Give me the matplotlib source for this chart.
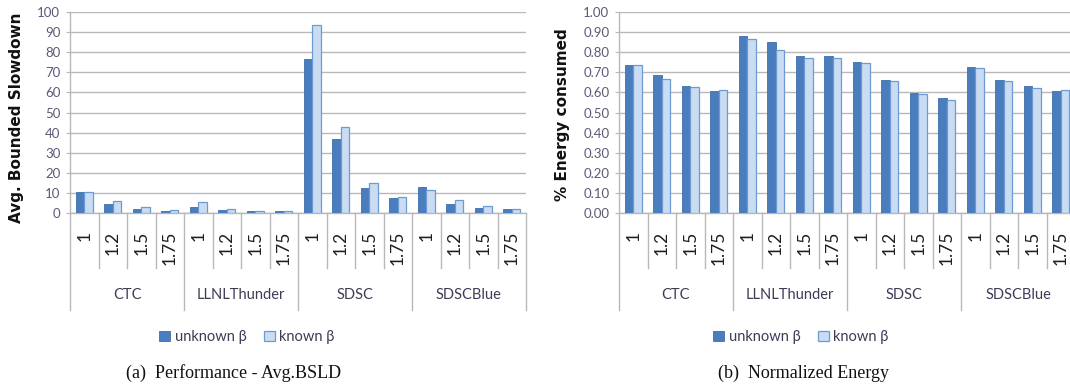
import matplotlib
matplotlib.use("Agg")
import matplotlib.pyplot as plt
from matplotlib.patches import Patch
from matplotlib.transforms import blended_transform_factory
import numpy as np

# ---- data -------------------------------------------------------------
groups = ["CTC", "LLNLThunder", "SDSC", "SDSCBlue"]
factors = ["1", "1.2", "1.5", "1.75"]

bsld_unknown = [10.6, 4.6, 2.2, 1.2,
                3.1, 1.7, 0.8, 0.8,
                76.5, 36.9, 12.3, 7.5,
                12.7, 4.6, 2.6, 2.2]
bsld_known = [10.6, 6.0, 3.1, 1.7,
              5.6, 2.2, 0.8, 0.8,
              93.4, 43.0, 14.7, 7.9,
              11.3, 6.5, 3.5, 2.2]

energy_unknown = [0.737, 0.687, 0.634, 0.606,
                  0.882, 0.853, 0.780, 0.780,
                  0.752, 0.664, 0.598, 0.573,
                  0.728, 0.661, 0.631, 0.608]
energy_known = [0.737, 0.669, 0.626, 0.611,
                0.868, 0.810, 0.770, 0.770,
                0.747, 0.659, 0.591, 0.563,
                0.722, 0.656, 0.621, 0.613]

bsld_ticks = list(range(0, 101, 10))
energy_ticks = [i / 10 for i in range(0, 11)]

series_labels = ["unknown β", "known β"]
captions = ["(a)  Performance - Avg.BSLD", "(b)  Normalized Energy"]

# ---- style ------------------------------------------------------------
DARK = "#4a7dbd"
DARK_EDGE = "#3f6fab"
LIGHT = "#c9dcf2"
LIGHT_EDGE = "#6e9ad3"
GRID = "#b8b8b8"
TICK_COL = "#5a5a78"
TEXT_COL = "#3c3c55"

W, H = 1070, 388
fig = plt.figure(figsize=(W / 100, H / 100), dpi=100)


def px_axes(x0, y_top, w, y_bot):
    return fig.add_axes([x0 / W, 1 - y_bot / H, w / W, (y_bot - y_top) / H])


def draw_panel(ax, unknown, known, ticks, fmt, ylabel, ylabel_x, ylabel_y,
               legend_x, caption_x, caption):
    n = len(unknown)
    x = np.arange(n)
    bw = 0.3
    ax.bar(x - bw / 2, unknown, bw, color=DARK, edgecolor=DARK_EDGE,
           linewidth=0.6, zorder=3)
    ax.bar(x + bw / 2, known, bw, color=LIGHT, edgecolor=LIGHT_EDGE,
           linewidth=0.9, zorder=3)

    ax.set_xlim(-0.5, n - 0.5)
    ax.set_ylim(ticks[0], ticks[-1])
    ax.set_yticks(ticks)
    ax.set_yticklabels([fmt.format(t) for t in ticks], family="Lato",
                       fontsize=9.5, color=TICK_COL)
    ax.yaxis.grid(True, color=GRID, linewidth=1.0, zorder=0)
    ax.set_axisbelow(True)
    ax.tick_params(axis="y", length=3, width=0.8, color=GRID, pad=4)
    ax.set_xticks([])
    for s in ("top", "right"):
        ax.spines[s].set_visible(False)
    ax.spines["left"].set_color(GRID)
    ax.spines["left"].set_linewidth(1.0)
    ax.spines["bottom"].set_color(GRID)
    ax.spines["bottom"].set_linewidth(1.0)

    # category table below the axis
    tr = blended_transform_factory(ax.transData, ax.transAxes)
    ax_h = ax.get_position().height * H
    short = -55 / ax_h
    long_ = -97 / ax_h
    lab_top = -18 / ax_h
    grp_y = -82 / ax_h
    for b in range(n + 1):
        xb = b - 0.5
        bottom = long_ if b % len(factors) == 0 else short
        ax.plot([xb, xb], [0, bottom], color=GRID, linewidth=1.0,
                transform=tr, clip_on=False)
    for i in range(n):
        ax.text(i, lab_top, factors[i % len(factors)], rotation=90,
                ha="center", va="top", family="Lato", fontsize=12.5,
                color="#1e1e1e", transform=tr, clip_on=False)
    for g, name in enumerate(groups):
        xc = g * len(factors) + (len(factors) - 1) / 2
        ax.text(xc, grp_y, name, ha="center", va="center", family="Lato",
                fontsize=10.5, color=TEXT_COL, transform=tr, clip_on=False)

    fig.text(ylabel_x / W, 1 - ylabel_y / H, ylabel, rotation=90,
             ha="center", va="center", fontsize=11, fontweight="bold",
             family="DejaVu Sans", color="#111111")

    handles = [Patch(facecolor=DARK, edgecolor=DARK_EDGE, linewidth=0.6),
               Patch(facecolor=LIGHT, edgecolor=LIGHT_EDGE, linewidth=0.9)]
    fig.legend(handles, series_labels, loc="center",
               bbox_to_anchor=(legend_x / W, 1 - 337 / H), ncol=2,
               frameon=False, handlelength=0.75, handleheight=0.75,
               handletextpad=0.3, columnspacing=1.2,
               prop={"family": "Lato", "size": 10.5}, labelcolor=TEXT_COL)

    fig.text(caption_x / W, 1 - 373 / H, caption, ha="center", va="center",
             family="Liberation Serif", fontsize=13, color="#111111")


ax1 = px_axes(70, 12, 456, 213)
draw_panel(ax1, bsld_unknown, bsld_known, bsld_ticks, "{:.0f}",
           "Avg. Bounded Slowdown", 17, 118, 247, 234, captions[0])

ax2 = px_axes(619, 12, 456, 213)
draw_panel(ax2, energy_unknown, energy_known, energy_ticks, "{:.2f}",
           "% Energy consumed", 563, 115, 801, 803, captions[1])

fig.savefig("out.png", dpi=100)
